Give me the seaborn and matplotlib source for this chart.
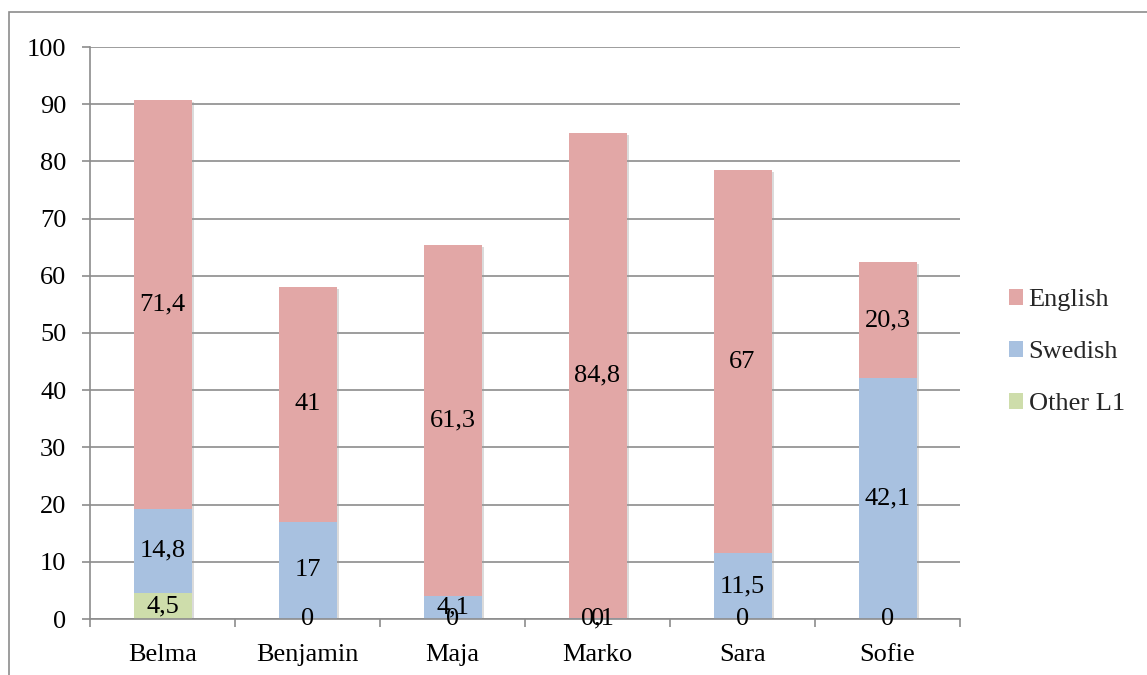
import matplotlib
matplotlib.use("Agg")
import matplotlib.pyplot as plt
from matplotlib.patches import Rectangle, Patch
import matplotlib.patheffects as pe
import numpy as np
import pandas as pd
import seaborn as sns

students = ["Belma", "Benjamin", "Maja", "Marko", "Sara", "Sofie"]
other_l1 = [4.5, 0, 0, 0, 0, 0]
swedish = [14.8, 17, 4.1, 0.1, 11.5, 42.1]
english = [71.4, 41, 61.3, 84.8, 67, 20.3]
series_names = ["Other L1", "Swedish", "English"]
colors = {"English": "#E2A7A6", "Swedish": "#A8C1E0", "Other L1": "#CEDDAB"}

sns.set_theme(style="white")
plt.rcParams["font.family"] = ["Liberation Serif", "DejaVu Serif"]
FS = 19

fig = plt.figure(figsize=(11.47, 6.75), dpi=100)
ax = fig.add_axes([90 / 1147, 1 - 619 / 675, 870 / 1147, 572 / 675])

# outer chart frame
fig.patches.append(Rectangle((9 / 1147, -0.05), 1.2, 1 - 12 / 675 + 0.05,
                             transform=fig.transFigure, fill=False,
                             edgecolor="#8c8c8c", linewidth=1.2, zorder=0))

layers = [other_l1, swedish, english]
bottoms = np.zeros(len(students))
cums = []
for vals in layers:
    cums.append(bottoms + np.array(vals))
    bottoms = cums[-1]

df = pd.DataFrame({"student": students})
# draw cumulative heights from the tallest down so each segment shows
for name, cum in zip(reversed(series_names), reversed(cums)):
    df["h"] = cum
    sns.barplot(data=df, x="student", y="h", color=colors[name],
                width=0.4, saturation=1, ax=ax, zorder=3, linewidth=0)

# soft drop shadow on the full stacks only
for p in ax.patches[:len(students)]:
    p.set_path_effects([pe.SimplePatchShadow(offset=(1.5, -1.5),
                                             shadow_rgbFace="#9a9a9a", alpha=0.35),
                        pe.Normal()])

# segment value labels
def fmt(v):
    if float(v).is_integer():
        return str(int(v))
    return f"{v:.1f}".replace(".", ",")

base = np.zeros(len(students))
for vals in layers:
    for i, v in enumerate(vals):
        ax.text(i, base[i] + v / 2, fmt(v), ha="center", va="center",
                fontsize=FS, color="black", zorder=5)
    base = base + np.array(vals)

ax.set_ylim(0, 100)
ax.set_xlim(-0.5, len(students) - 0.5)
ax.set_yticks(range(0, 101, 10))
ax.set_yticklabels([str(t) for t in range(0, 101, 10)], fontsize=FS)
ax.set_xticks(range(len(students)))
ax.set_xticklabels(students, fontsize=FS)
ax.set_xlabel("")
ax.set_ylabel("")

ax.yaxis.grid(True, color="#8c8c8c", linewidth=1.2, zorder=0)
ax.set_axisbelow(True)
for s in ["top", "right"]:
    ax.spines[s].set_visible(False)
for s in ["left", "bottom"]:
    ax.spines[s].set_color("#8c8c8c")
    ax.spines[s].set_linewidth(1.2)
    ax.spines[s].set_zorder(4)

ax.tick_params(axis="y", which="major", left=True, length=6, width=1.2,
               color="#8c8c8c", pad=11, labelcolor="black")
ax.tick_params(axis="x", which="major", bottom=False, pad=12, labelcolor="black")
# category boundary ticks on the x axis
ax.set_xticks(np.arange(-0.5, len(students), 1.0), minor=True)
ax.tick_params(axis="x", which="minor", bottom=True, length=6, width=1.2,
               color="#8c8c8c")

handles = [Patch(facecolor=colors[n], edgecolor="none") for n in reversed(series_names)]
fig.legend(handles, list(reversed(series_names)), loc="center left",
           bbox_to_anchor=(985 / 1147, 1 - 352 / 675), frameon=False,
           fontsize=FS, handlelength=0.55, handleheight=0.55,
           handletextpad=0.2, labelspacing=1.12)

fig.savefig("out.png", dpi=100)
